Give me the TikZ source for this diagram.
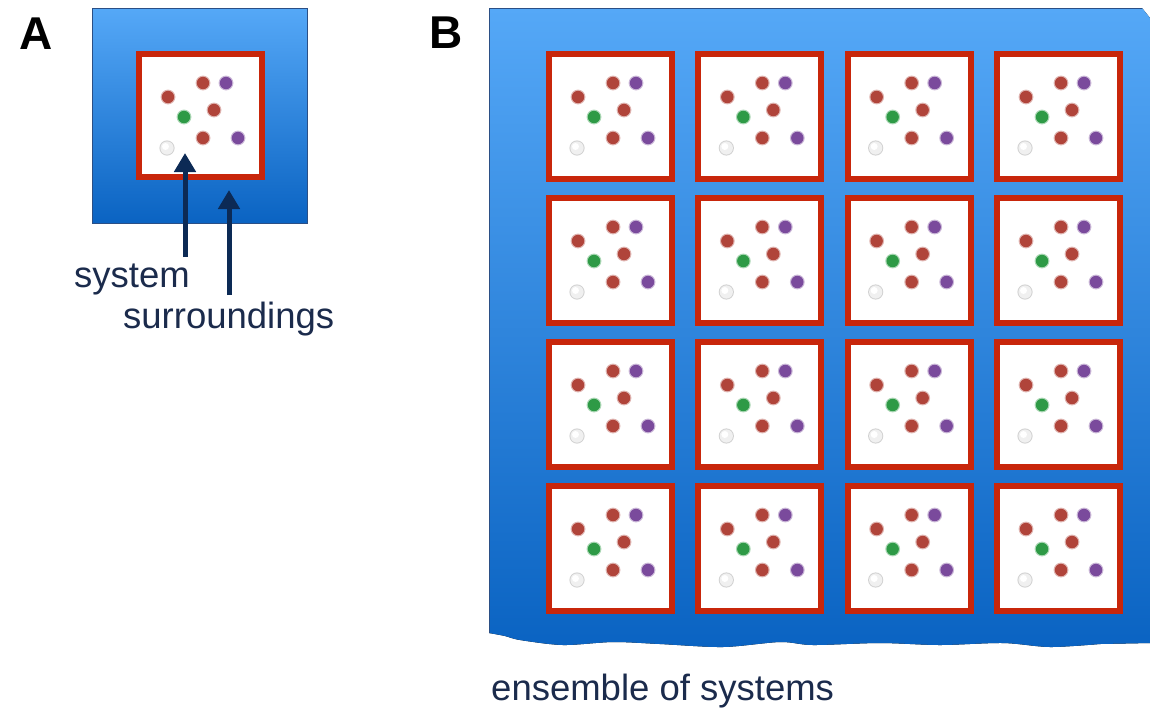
\documentclass[tikz,border=0pt]{standalone}
\usepackage{fontspec}
\setmainfont{Liberation Sans}
\usetikzlibrary{arrows.meta}
\definecolor{skytop}{HTML}{55A8F7}
\definecolor{skybot}{HTML}{0A63C2}
\definecolor{rim}{HTML}{2B4F85}
\definecolor{boxred}{HTML}{C8260B}
\definecolor{navy}{HTML}{0C2A55}
\definecolor{inkblue}{HTML}{1B2B4C}
\definecolor{pred}{HTML}{B0443A}
\definecolor{ppurple}{HTML}{7A4A9C}
\definecolor{pgreen}{HTML}{2E9A46}
\tikzset{
	sysbox/.style={draw=boxred, line width=6pt, fill=white, minimum width=123pt, minimum height=125pt, inner sep=0pt},
	pointer/.style={navy, line width=5pt, -{Triangle[width=21pt,length=19pt]}},
	lbl/.style={inkblue, font=\fontsize{36.5}{40}\selectfont, inner sep=0pt, anchor=base west},
	panel/.style={font=\bfseries\fontsize{46}{50}\selectfont, inner sep=0pt},
	pics/particles/.style={code={
		\foreach \px/\py/\pc in {67/32/pred, 90/32/ppurple, 32/46/pred, 78/59/pred, 48/66/pgreen, 67/87/pred, 102/87/ppurple}{
			\fill[\pc!40] (\px,\py) circle (7.4pt);
			\fill[\pc] (\px,\py) circle (6.2pt);
		}
		\fill[gray!35] (31,97) circle (7.6pt);
		\fill[gray!12] (31,97) circle (6.6pt);
		\fill[white] (29.5,95.5) circle (3.5pt);
	}}
}
\begin{document}
\begin{tikzpicture}[x=1pt,y=-1pt]
	\useasboundingbox (0,0) rectangle (1150,710);
	\node[draw=rim, line width=1pt, top color=skytop, bottom color=skybot, minimum size=215pt, inner sep=0pt] (surr) at (200,116) {};
	\node[sysbox, minimum height=123pt] (sysA) at (200.5,115.5) {};
	\pic at (sysA.north west) {particles};
	\node[panel] (pa) at (36,34) {A};
	\node[lbl] (syslbl) at (74,287) {system};
	\node[lbl] (surrlbl) at (123,328) {surroundings};
	\coordinate (systail) at (185,257);
	\coordinate (systip) at (185,153);
	\coordinate (surrtail) at (229,295);
	\coordinate (surrtip) at (229,190);
	\draw[pointer] (systail) -- (systip);
	\draw[pointer] (surrtail) -- (surrtip);
	\fill[top color=skytop, bottom color=skybot] (489,8) -- (1142,8) -- (1150,18) -- (1150,643)
		-- plot[smooth] coordinates {(1100,644) (1050,647) (1003,643) (940,645) (880,643) (813,645) (780,642) (723,647) (660,644) (613,642) (563,645) (520,640) (505,636) (489,633)} -- cycle;
	\draw[rim, line width=1pt] (489,633) -- (489,8) -- (1142,8);
	\node[panel] (pb) at (446,33) {B};
	\foreach \c in {0,...,3}
		\foreach \r in {0,...,3}{
			\node[sysbox] (sys-\c-\r) at ({610.5+149.33*\c},{116.5+144*\r}) {};
			\pic at (sys-\c-\r.north west) {particles};
		}
	\node[lbl] (enslbl) at (491,700) {ensemble of systems};
\end{tikzpicture}
\end{document}
